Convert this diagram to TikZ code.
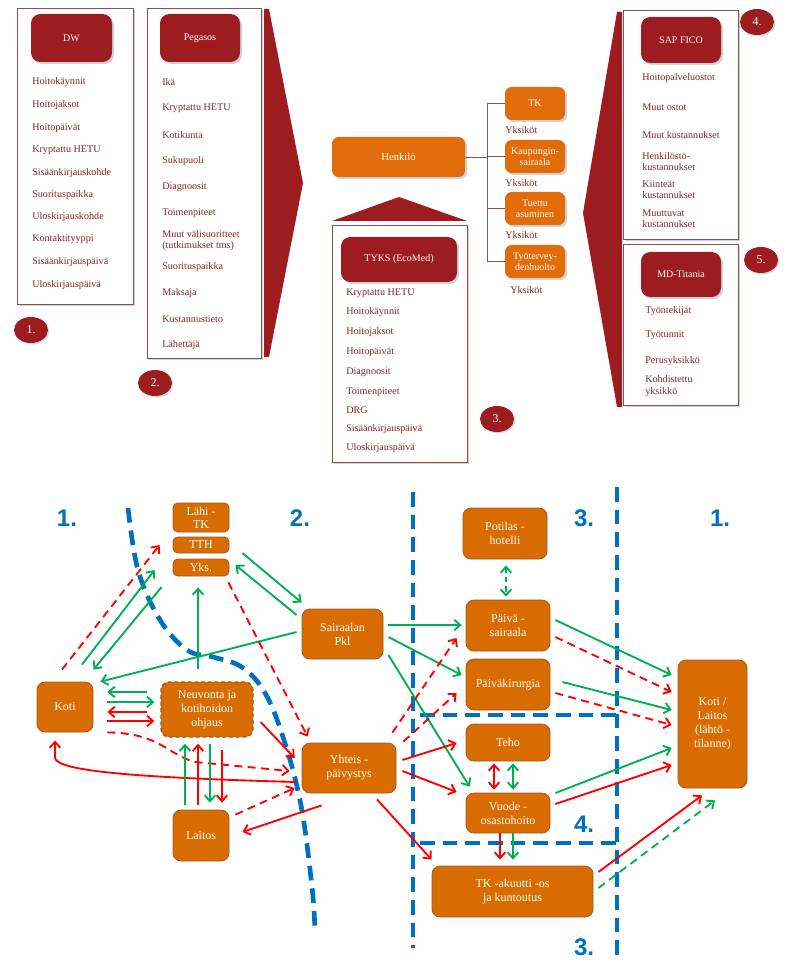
\documentclass[tikz,border=0pt]{standalone}
\usepackage{fontspec}
\setmainfont{Liberation Serif}
\newfontfamily\numsans{Liberation Sans}
\usetikzlibrary{arrows.meta,shadows,shapes.geometric}

\definecolor{darkred}{RGB}{156,28,31}
\definecolor{panelline}{RGB}{140,80,80}
\definecolor{itemred}{RGB}{125,40,40}
\definecolor{orngtop}{RGB}{226,108,10}
\definecolor{orng}{RGB}{217,108,0}
\definecolor{obrd}{RGB}{160,90,40}
\definecolor{grn}{RGB}{0,176,80}
\definecolor{rd}{RGB}{255,0,0}
\definecolor{blu}{RGB}{0,112,192}

% box from its corners: style, name, x1, y1, x2, y2, text
\newcommand\cbox[7]{%
  \node[#1, minimum width={(#5-#3)*0.75pt}, minimum height={(#6-#4)*0.75pt}]
    (#2) at ({(#3+#5)/2},{(#4+#6)/2}) {#7};}

\begin{document}
\begin{tikzpicture}[x=0.75pt,y=-0.75pt,
  >={Straight Barb[length=4.5pt,width=8pt]},
  panel/.style={draw=panelline, line width=0.6pt, fill=white, inner sep=0pt,
    drop shadow={shadow xshift=1.5pt, shadow yshift=-1.5pt, opacity=0.35}},
  titlebox/.style={fill=darkred, rounded corners=7pt, inner sep=0pt, text=white,
    font=\fontsize{7.5}{9}\selectfont,
    drop shadow={shadow xshift=1.5pt, shadow yshift=-1.5pt, opacity=0.35}},
  topbox/.style={fill=orngtop, rounded corners=5pt, inner sep=0pt, text=white, align=center,
    font=\fontsize{7.5}{8.3}\selectfont,
    drop shadow={shadow xshift=1.5pt, shadow yshift=-1.5pt, opacity=0.35}},
  item/.style={anchor=west, inner sep=0pt, text=itemred, align=left,
    font=\fontsize{7.6}{8.4}\selectfont},
  badge/.style={ellipse, fill=darkred, minimum width=25.5pt, minimum height=19.5pt,
    inner sep=0pt, text=white, font=\fontsize{9}{9}\selectfont,
    drop shadow={shadow xshift=1pt, shadow yshift=-1pt, opacity=0.3}},
  chev/.style={fill=darkred},
  tree/.style={draw=panelline, line width=0.7pt},
  obox/.style={fill=orng, draw=obrd, line width=0.6pt, rounded corners=6pt, inner sep=0pt,
    text=white, align=center, font=\fontsize{9}{10.5}\selectfont},
  sbox/.style={obox, rounded corners=3.5pt, font=\fontsize{9}{9.8}\selectfont},
  ga/.style={draw=grn, line width=1.4pt, ->},
  ra/.style={draw=rd, line width=1.4pt, ->},
  dsh/.style={dash pattern=on 6pt off 4pt},
  sdsh/.style={dash pattern=on 4pt off 3pt},
  bl/.style={draw=blu, line width=3.5pt, dash pattern=on 11pt off 6pt},
  zone/.style={text=blu, font=\numsans\bfseries\fontsize{18}{18}\selectfont, inner sep=0pt}
]
% page
\fill[white] (0,0) rectangle (787,969);
\useasboundingbox (0,0) rectangle (787,969);

% ================= source systems =================
% chevrons
\fill[chev] (264,9) -- (269,9) -- (303,183) -- (269,357) -- (264,357) -- cycle;
\fill[chev] (617,12) -- (622,12) -- (622,407) -- (617,407) -- (583,213) -- cycle;
\fill[chev] (332,221) -- (399,197) -- (467,221) -- cycle;

% DW
\cbox{panel}{dwp}{17}{8}{133}{304}{}
\cbox{titlebox}{dwt}{31}{14}{112}{62}{DW}
\foreach \yy/\t [count=\i] in {82/Hoitokäynnit, 105/Hoitojaksot, 128/Hoitopäivät,
  150/Kryptattu HETU, 173/Sisäänkirjauskohde, 195/Suorituspaikka, 217/Uloskirjauskohde,
  239/Kontaktityyppi, 262/Sisäänkirjauspäivä, 285/Uloskirjauspäivä}
  \node[item] (dw\i) at (32,\yy) {\t};
\node[badge] (b1) at (31,330) {1.};

% Pegasos
\cbox{panel}{pgp}{147}{8}{261}{358}{}
\cbox{titlebox}{pgt}{160}{14}{240}{62}{Pegasos}
\foreach \yy/\t [count=\i] in {82/Ikä, 108/Kryptattu HETU, 135/Kotikunta, 161/Sukupuoli,
  187/Diagnoosit, 213/Toimenpiteet, 240.5/{Muut välisuoritteet\\(tutkimukset tms)},
  267/Suorituspaikka, 293/Maksaja, 319/Kustannustieto, 345/Lähettäjä}
  \node[item] (pg\i) at (162,\yy) {\t};
\node[badge] (b2) at (155,383) {2.};

% Henkilö and units
\cbox{topbox, font=\fontsize{8}{9}\selectfont}{henk}{332}{137}{465}{177}{Henkilö}
\cbox{topbox}{tk}{505}{87}{565}{120}{TK}
\cbox{topbox}{ks}{505}{140}{565}{173}{Kaupungin-\\sairaala}
\cbox{topbox}{ta}{505}{192}{565}{225}{Tuettu\\asuminen}
\cbox{topbox}{tt}{505}{245}{565}{278}{Työtervey-\\denhuolto}
\coordinate (jn) at (487,157);
\draw[tree] (henk.east) -- (jn);
\foreach \b in {tk,ks,ta,tt} \draw[tree] (jn) |- (\b.west);
\node[item] (y1) at (505,130) {Yksiköt};
\node[item] (y2) at (505,183) {Yksiköt};
\node[item] (y3) at (505,235) {Yksiköt};
\node[item] (y4) at (510,290) {Yksiköt};

% TYKS
\cbox{panel}{typ}{332}{225}{467}{462}{}
\cbox{titlebox}{tyt}{341}{237}{457}{282}{TYKS (EcoMed)}
\foreach \yy/\t [count=\i] in {293/Kryptattu HETU, 312/Hoitokäynnit, 332/Hoitojaksot,
  352/Hoitopäivät, 372/Diagnoosit, 392/Toimenpiteet, 410/DRG, 429/Sisäänkirjauspäivä,
  448/Uloskirjauspäivä}
  \node[item] (ty\i) at (346,\yy) {\t};
\node[badge] (b3) at (497,419) {3.};

% SAP FICO
\cbox{panel}{sap}{623}{10}{738}{239}{}
\cbox{titlebox}{sapt}{641}{17}{721}{63}{SAP FICO}
\foreach \yy/\t [count=\i] in {78/Hoitopalveluostot, 107/Muut ostot, 135/Muut kustannukset,
  161.5/{Henkilöstö-\\kustannukset}, 190/{Kiinteät\\kustannukset}, 218.5/{Muuttuvat\\kustannukset}}
  \node[item] (sa\i) at (642,\yy) {\t};
\node[badge] (b4) at (757,22) {4.};

% MD-Titania
\cbox{panel}{mdp}{623}{244}{738}{405}{}
\cbox{titlebox}{mdt}{641}{252}{721}{297}{MD-Titania}
\foreach \yy/\t [count=\i] in {311/Työntekijät, 335/Työtunnit, 361/Perusyksikkö,
  386/{Kohdistettu\\yksikkö}}
  \node[item] (md\i) at (645,\yy) {\t};
\node[badge] (b5) at (761,260) {5.};

% ================= care pathways =================
% zone borders
\draw[bl] plot[smooth, tension=0.6] coordinates {(128,508) (138,570) (160,620) (187,650)
  (213,657) (240,666) (262,688) (280,728) (300,800) (312,887) (315,933)};
\draw[bl] (413,492) -- (413,948);
\draw[bl] (617,487) -- (617,960);
\draw[bl] (420,715) -- (617,715);
\draw[bl] (420,843) -- (617,843);

\node[zone] (z1) at (67,518) {1.};
\node[zone] (z2) at (300,518) {2.};
\node[zone] (z3) at (584,518) {3.};
\node[zone] (z1b) at (720,518) {1.};
\node[zone] (z4) at (584,824) {4.};
\node[zone] (z3b) at (584,947) {3.};

% units
\cbox{sbox}{lahi}{173}{503}{229}{532}{Lähi -\\TK}
\cbox{sbox}{tth}{173}{537}{229}{553}{TTH}
\cbox{sbox}{yks}{173}{559}{229}{576}{Yks.}
\cbox{obox}{pkl}{302}{609}{383}{659}{Sairaalan\\Pkl}
\cbox{obox}{koti}{37}{682}{93}{732}{Koti}
\cbox{obox, dashed, dash pattern=on 3pt off 2pt, line width=1pt}{neuv}{161}{682}{253}{737}{Neuvonta ja\\kotihoidon\\ohjaus}
\cbox{obox}{laitos}{173}{810}{229}{861}{Laitos}
\cbox{obox}{yp}{302}{743}{396}{793}{Yhteis -\\päivystys}
\cbox{obox}{hotel}{463}{508}{547}{559}{Potilas -\\hotelli}
\cbox{obox}{psai}{466}{600}{550}{651}{Päivä -\\sairaala}
\cbox{obox}{pkir}{466}{659}{550}{710}{Päiväkirurgia}
\cbox{obox}{teho}{466}{724}{550}{761}{Teho}
\cbox{obox}{vuode}{466}{793}{550}{833}{Vuode -\\osastohoito}
\cbox{obox}{tka}{432}{866}{593}{917}{TK -akuutti -os\\ja kuntoutus}
\cbox{obox}{kl}{678}{660}{747}{788}{Koti /\\Laitos\\(lähtö -\\tilanne)}

% home and primary care
\draw[ra, dsh] ([shift={(-3,-12)}]koti.north) -- ([shift={(-13,0)}]tth.west);
\draw[ga] ([shift={(17,-17)}]koti.north) -- ([shift={(-18,2.5)}]yks.west);
\draw[ga] ([shift={(-11,19.5)}]yks.west) -- ([shift={(0,-12)}]koti.north east);
\draw[ga] ([shift={(-5,-2)}]pkl.west) -- ([shift={(7,0)}]koti.north east);
\draw[ga] ([shift={(-9,-12)}]neuv.north) -- ([shift={(-3,11)}]yks.south);
\draw[ga] ([shift={(13,-14.5)}]yks.east) -- ([shift={(0,-6)}]pkl.north west);
\draw[ga] ([shift={(-5,-19)}]pkl.west) -- ([shift={(6,-2.5)}]yks.east);
\draw[ra, dsh] ([shift={(-1,6)}]yks.south east) -- ([shift={(6,-6)}]yp.north west);

\draw[ga] ([shift={(-13,-17.5)}]neuv.west) -- ([shift={(14,-15)}]koti.east);
\draw[ga] ([shift={(14,-5)}]koti.east) -- ([shift={(-6,-7.5)}]neuv.west);
\draw[ra] ([shift={(-13,2.5)}]neuv.west) -- ([shift={(14,5)}]koti.east);
\draw[ra] ([shift={(14,14)}]koti.east) -- ([shift={(-6,11.5)}]neuv.west);

\draw[ra, dsh] ([shift={(14,0)}]koti.south east) .. controls (160,733) and (168,755) .. (195,762) -- ([shift={(-12,3)}]yp.west);
\draw[ra] ([shift={(-5,14)}]yp.west) .. controls (150,778) and (57,772) .. (55,758) -- ([shift={(-10,8)}]koti.south);

\draw[ga] ([shift={(-16,-5)}]laitos.north) -- ([shift={(-22,6)}]neuv.south);
\draw[ra] ([shift={(-3,-5)}]laitos.north) -- ([shift={(-9,6)}]neuv.south);
\draw[ga] ([shift={(3,6)}]neuv.south) -- ([shift={(9,-7)}]laitos.north);
\draw[ra] ([shift={(15,12)}]neuv.south) -- ([shift={(21,-7)}]laitos.north);

\draw[ra, dsh] ([shift={(6,5)}]laitos.north east) -- ([shift={(-7,20)}]yp.west);
\draw[ra] ([shift={(20,12)}]yp.south west) -- ([shift={(13,-3.5)}]laitos.east);
\draw[ra] ([shift={(7,12.5)}]neuv.east) -- ([shift={(-7,-10)}]yp.west);

% hospital
\draw[ga] ([shift={(5,-9)}]pkl.east) -- ([shift={(-4,-0.5)}]psai.west);
\draw[ga] ([shift={(5,3)}]pkl.east) -- ([shift={(-4,-9.5)}]pkir.west);
\draw[ga] ([shift={(5,21)}]pkl.east) -- ([shift={(4,-6)}]vuode.north west);
\draw[ra, dsh] ([shift={(-4,-10)}]yp.north east) -- ([shift={(-9,12.5)}]psai.west);
\draw[ra, dsh] ([shift={(7,-1)}]yp.north east) -- ([shift={(-9,8.5)}]pkir.west);
\draw[ra] ([shift={(6,-8)}]yp.east) -- ([shift={(-9,0.5)}]teho.west);
\draw[ra] ([shift={(6,3)}]yp.east) -- ([shift={(-9,-21)}]vuode.west);
\draw[ra] ([shift={(28,6)}]yp.south) -- ([shift={(0,-6)}]tka.north west);

\draw[ga, sdsh, <->] ([shift={(1,6)}]hotel.south) -- ([shift={(-2,-3)}]psai.north);
\draw[ra, <->] ([shift={(-14,2)}]teho.south) -- ([shift={(-14,-3)}]vuode.north);
\draw[ga, <->] ([shift={(5,2)}]teho.south) -- ([shift={(5,-3)}]vuode.north);
\draw[ra] ([shift={(-8,0)}]vuode.south) -- ([shift={(-12.5,-6)}]tka.north);
\draw[ga] ([shift={(5,0)}]vuode.south) -- ([shift={(0.5,-6)}]tka.north);

% back to starting point
\draw[ga] ([shift={(5,-5.5)}]psai.east) -- ([shift={(-6,-49)}]kl.west);
\draw[ra, dsh] ([shift={(5,11.5)}]psai.east) -- ([shift={(-6,-32)}]kl.west);
\draw[ga] ([shift={(12,-2.5)}]pkir.east) -- ([shift={(-6,-14)}]kl.west);
\draw[ra, dsh] ([shift={(5,8.5)}]pkir.east) -- ([shift={(-6,1)}]kl.west);
\draw[ga] ([shift={(5,-20)}]vuode.east) -- ([shift={(-6,24)}]kl.west);
\draw[ra] ([shift={(5,-9)}]vuode.east) -- ([shift={(-6,41)}]kl.west);
\draw[ra] ([shift={(5,-19.5)}]tka.east) -- ([shift={(-10.5,7)}]kl.south);
\draw[ga, dsh] ([shift={(5,-3.5)}]tka.east) -- ([shift={(2.5,12)}]kl.south);
\end{tikzpicture}
\end{document}
